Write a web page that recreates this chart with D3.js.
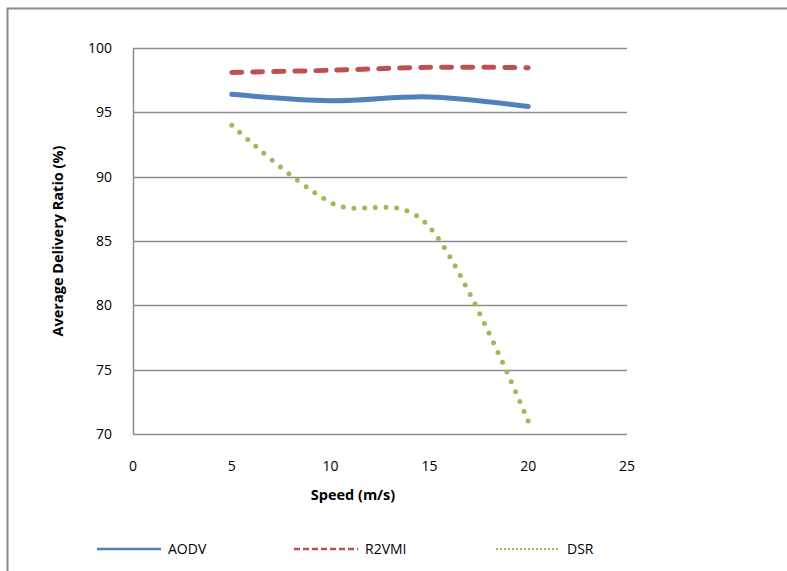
<!DOCTYPE html>
<html>
<head>
<meta charset="utf-8">
<script src="https://cdn.jsdelivr.net/npm/d3@7"></script>
<style>
  body { margin: 0; background: #fff; }
  svg { display: block; font-family: "Open Sans", "Noto Sans", sans-serif; }
</style>
</head>
<body>
<svg id="chart" width="787" height="571"></svg>
<script>
const speeds = [5, 10, 15, 20];
const aodv = [96.4, 95.9, 96.2, 95.45];
const r2vmi = [98.1, 98.27, 98.5, 98.47];
const dsr = [94.0, 88.0, 86.1, 71.0];
const xTicks = [0, 5, 10, 15, 20, 25];
const yTicks = [70, 75, 80, 85, 90, 95, 100];

const series = [
  { name: 'AODV', values: aodv, color: '#4F81BD', dash: null, width: 5, legendDash: null },
  { name: 'R2VMI', values: r2vmi, color: '#C0504D', dash: '10 11', width: 5, legendDash: '6 3' },
  { name: 'DSR', values: dsr, color: '#9BBB59', dash: '0 10.7', width: 5, legendDash: '2 2' }
];

const svg = d3.select('#chart');

// chart frame (runs off the bottom/right edges)
svg.append('rect')
  .attr('x', 7.5).attr('y', 8.5)
  .attr('width', 800).attr('height', 600)
  .attr('fill', 'none').attr('stroke', '#8c8c8c').attr('stroke-width', 2);

const x = d3.scaleLinear().domain([0, 25]).range([133, 627]);
const y = d3.scaleLinear().domain([70, 100]).range([434, 48]);

const g = svg.append('g');

// gridlines
g.selectAll('.grid')
  .data(yTicks)
  .join('line')
  .attr('x1', x(0)).attr('x2', x(25))
  .attr('y1', d => Math.round(y(d)) + 0.5).attr('y2', d => Math.round(y(d)) + 0.5)
  .attr('stroke', '#8c8c8c').attr('stroke-width', 1.5);

// y axis line
g.append('line')
  .attr('x1', x(0) + 0.5).attr('x2', x(0) + 0.5)
  .attr('y1', y(100)).attr('y2', y(70))
  .attr('stroke', '#8c8c8c').attr('stroke-width', 1.5);

// y tick labels
g.selectAll('.ylab')
  .data(yTicks)
  .join('text')
  .attr('x', 112).attr('y', d => y(d))
  .attr('dy', '0.35em')
  .attr('text-anchor', 'end')
  .attr('font-size', 14)
  .attr('fill', '#000')
  .text(d => d);

// x tick labels
g.selectAll('.xlab')
  .data(xTicks)
  .join('text')
  .attr('x', d => x(d)).attr('y', 466)
  .attr('dy', '0.35em')
  .attr('text-anchor', 'middle')
  .attr('font-size', 14)
  .text(d => d);

// axis titles
svg.append('text')
  .attr('x', 353).attr('y', 495)
  .attr('dy', '0.35em')
  .attr('text-anchor', 'middle')
  .attr('font-size', 14.5).attr('font-weight', 'bold')
  .text('Speed (m/s)');

svg.append('text')
  .attr('transform', `translate(58,${(y(100) + y(70)) / 2}) rotate(-90)`)
  .attr('dy', '0.35em')
  .attr('text-anchor', 'middle')
  .attr('font-size', 14.5).attr('font-weight', 'bold')
  .text('Average Delivery Ratio (%)');

// lines
const line = d3.line()
  .x((d, i) => x(speeds[i]))
  .y(d => y(d))
  .curve(d3.curveCardinal.tension(0));

series.forEach(s => {
  g.append('path')
    .datum(s.values)
    .attr('fill', 'none')
    .attr('stroke', s.color)
    .attr('stroke-width', s.width)
    .attr('stroke-linecap', 'round')
    .attr('stroke-dasharray', s.dash)
    .attr('d', line);
});

// legend
const legendX = [97, 294, 496];
const legend = svg.append('g');
series.forEach((s, i) => {
  legend.append('line')
    .attr('x1', legendX[i]).attr('x2', legendX[i] + 64)
    .attr('y1', 549).attr('y2', 549)
    .attr('stroke', s.color)
    .attr('stroke-width', s.name === 'DSR' ? 2 : 2.5)
    .attr('stroke-dasharray', s.legendDash);
  legend.append('text')
    .attr('x', legendX[i] + 71).attr('y', 549)
    .attr('dy', '0.35em')
    .attr('font-size', 14)
    .text(s.name);
});
</script>
</body>
</html>
